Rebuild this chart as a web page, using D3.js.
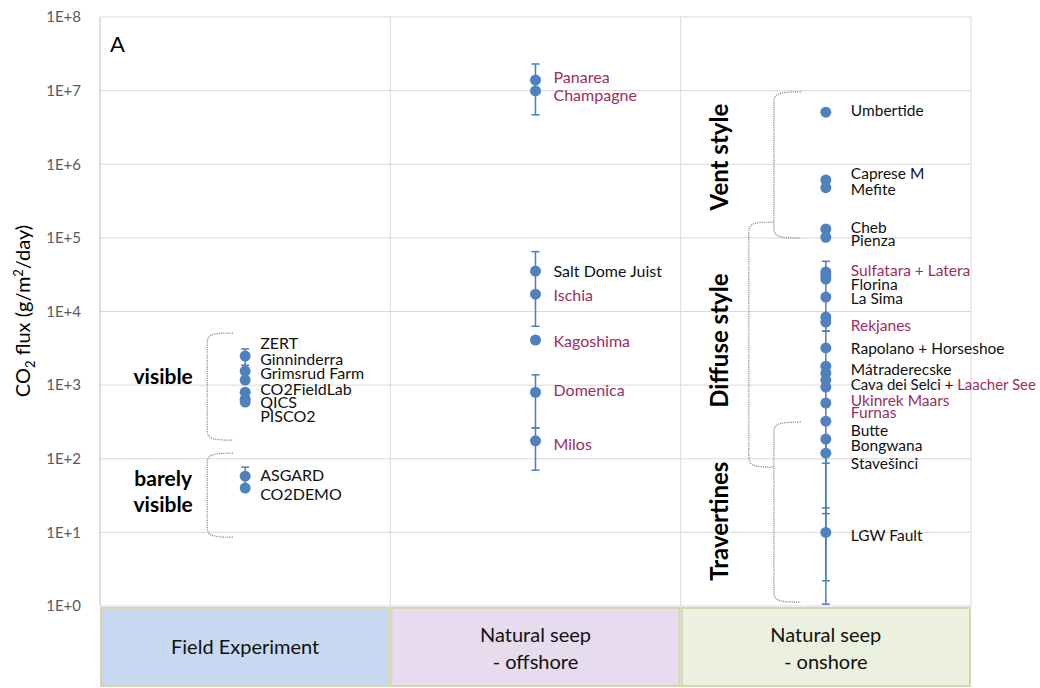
<!DOCTYPE html>
<html>
<head>
<meta charset="utf-8">
<script src="https://cdn.jsdelivr.net/npm/d3@7"></script>
<style>
  html, body { margin: 0; padding: 0; background: #fff; }
  svg { display: block; font-family: Lato, "Open Sans", "Liberation Sans", sans-serif; }
</style>
</head>
<body>
<svg id="chart" width="1040" height="688"></svg>
<script>
// ---------------- DATA ----------------
const categories = ["Field Experiment", "Natural seep - offshore", "Natural seep - onshore"];
const categoryLines = [["Field Experiment"], ["Natural seep", "- offshore"], ["Natural seep", "- onshore"]];
const categoryFills = ["#c6d9f1", "#e6dcee", "#ebf1de"];

const yTickValues = [1, 10, 100, 1000, 1e4, 1e5, 1e6, 1e7, 1e8];
const yTickLabels = ["1E+0", "1E+1", "1E+2", "1E+3", "1E+4", "1E+5", "1E+6", "1E+7", "1E+8"];

// Field experiments (g/m2/day)
const fieldSites = ["ZERT", "Ginninderra", "Grimsrud Farm", "CO2FieldLab", "QICS", "PISCO2", "ASGARD", "CO2DEMO"];
const fieldFlux  = [2480, 1550, 1170, 800, 645, 590, 58, 40];

// Natural seeps offshore
const offshoreSites = ["Panarea", "Champagne", "Salt Dome Juist", "Ischia", "Kagoshima", "Domenica", "Milos"];
const offshoreFlux  = [1.39e7, 9.9e6, 35400, 17200, 4100, 800, 175];

// Natural seeps onshore
const onshoreSites = ["Umbertide", "Caprese M", "Mefite", "Cheb", "Pienza", "Sulfatara", "Latera", "Florina",
  "La Sima", "Rekjanes", "Horseshoe", "Rapolano", "Mátraderecske", "Cava dei Selci", "Laacher See",
  "Ukinrek Maars", "Furnas", "Butte", "Bongwana", "Stavešinci", "LGW Fault"];
const onshoreFlux  = [5.1e6, 6.1e5, 4.8e5, 1.32e5, 1.02e5, 34300, 31200, 27600,
  15700, 8400, 7200, 3200, 1810, 1450, 1170,
  940, 570, 324, 185, 119, 10];

// Error bars: [category index, low, high]
const errorCat  = [0, 0, 1, 1, 1, 1, 2, 2, 2, 2, 2];
const errorLow  = [1860, 40, 4.7e6, 6300, 263, 70, 5400, 87, 2.2, 18, 1.06];
const errorHigh = [3100, 77, 2.3e7, 65000, 1380, 263, 48000, 5400, 119, 185, 21.5];

// Site labels: category index, flux level at which the label sits, text parts [text, highlighted?]
const labelCat = [0,0,0,0,0,0,0,0, 1,1,1,1,1,1,1, 2,2,2,2,2,2,2,2,2,2,2,2,2,2,2,2,2,2];
const labelAt  = [3720, 2250, 1455, 883, 588, 379, 60, 33,
  1.53e7, 8.7e6, 35400, 16700, 3960, 855, 158,
  5.45e6, 7.6e5, 4.6e5, 1.4e5, 9.3e4, 36500, 23500, 15200, 6530, 3180, 1650, 1030, 625, 430, 245, 153, 85, 9.2];
const labelParts = [
  [["ZERT",0]], [["Ginninderra",0]], [["Grimsrud Farm",0]], [["CO2FieldLab",0]], [["QICS",0]], [["PISCO2",0]],
  [["ASGARD",0]], [["CO2DEMO",0]],
  [["Panarea",1]], [["Champagne",1]], [["Salt Dome Juist",0]], [["Ischia",1]], [["Kagoshima",1]], [["Domenica",1]], [["Milos",1]],
  [["Umbertide",0]], [["Caprese M",0]], [["Mefite",0]], [["Cheb",0]], [["Pienza",0]],
  [["Sulfatara + Latera",1]], [["Florina",0]], [["La Sima",0]], [["Rekjanes",1]], [["Rapolano + Horseshoe",0]],
  [["Mátraderecske",0]], [["Cava dei Selci + ",0],["Laacher See",1]], [["Ukinrek Maars",1]], [["Furnas",1]],
  [["Butte",0]], [["Bongwana",0]], [["Stavešinci",0]], [["LGW Fault",0]]
];

// Group brackets: category, text lines, low, high
const groupCat   = [0, 0, 2, 2, 2];
const groupText  = [["visible"], ["barely", "visible"], ["Vent style"], ["Diffuse style"], ["Travertines"]];
const groupLow   = [179, 8.6, 9.9e4, 77, 1.13];
const groupHigh  = [5100, 119, 9.6e6, 1.64e5, 314];

// ---------------- CHART ----------------
const svg = d3.select("#chart");
const W = 1040;
const plotLeft = 100, plotRight = 971, plotTop = 17, plotBottom = 606;

const x = d3.scaleBand().domain(categories).range([plotLeft, plotRight]).padding(0);
const y = d3.scaleLog().domain([1, 1e8]).range([plotBottom, plotTop]);
const cx = i => x(categories[i]) + x.bandwidth() / 2;

// gridlines
const grid = svg.append("g");
grid.selectAll("line.h").data(yTickValues).join("line")
  .attr("x1", plotLeft).attr("x2", plotRight)
  .attr("y1", d => y(d)).attr("y2", d => y(d))
  .attr("stroke", "#d9d9d9").attr("stroke-width", 1);
grid.selectAll("line.v").data(categories).join("line")
  .attr("x1", d => x(d) + x.bandwidth()).attr("x2", d => x(d) + x.bandwidth())
  .attr("y1", plotTop).attr("y2", plotBottom)
  .attr("stroke", "#d9d9d9").attr("stroke-width", 1);
grid.append("line").attr("x1", plotLeft).attr("x2", plotLeft).attr("y1", plotTop).attr("y2", plotBottom)
  .attr("stroke", "#bfbfbf");

// y axis
const yAxis = d3.axisLeft(y).tickValues(yTickValues)
  .tickFormat((d, i) => yTickLabels[i]).tickSize(0).tickPadding(19);
const yg = svg.append("g").attr("transform", `translate(${plotLeft},0)`).call(yAxis);
yg.select(".domain").remove();
yg.selectAll("text").attr("fill", "#595959").attr("font-size", 15)
  .attr("font-family", "Lato, 'Open Sans', sans-serif");

// y title
const yt = svg.append("text").attr("transform", "translate(30,311) rotate(-90)")
  .attr("text-anchor", "middle").attr("font-size", 20).attr("fill", "#000");
yt.append("tspan").text("CO");
yt.append("tspan").text("2").attr("font-size", 13).attr("dy", 5);
yt.append("tspan").text(" flux (g/m").attr("dy", -5);
yt.append("tspan").text("2").attr("font-size", 13).attr("dy", -7);
yt.append("tspan").text("/day)").attr("dy", 7);

// panel letter
svg.append("text").attr("x", 110).attr("y", 52).attr("font-size", 22).text("A");

// category boxes
const boxes = svg.append("g");
boxes.selectAll("rect").data(categories).join("rect")
  .attr("x", d => x(d) + 1).attr("y", 608)
  .attr("width", x.bandwidth() - 2).attr("height", 78)
  .attr("fill", (d, i) => categoryFills[i])
  .attr("stroke", "#d8d3b3").attr("stroke-width", 2);
boxes.selectAll("text").data(categories).join("text")
  .attr("x", (d, i) => cx(i))
  .attr("y", (d, i) => categoryLines[i].length === 1 ? 654 : 642)
  .attr("text-anchor", "middle").attr("font-size", 20).attr("fill", "#111")
  .each(function(d, i) {
    d3.select(this).selectAll("tspan").data(categoryLines[i]).join("tspan")
      .attr("x", cx(i)).attr("dy", (t, j) => j === 0 ? 0 : 27).text(t => t);
  });

// brackets
const bracketGeom = [
  {vx: -38, ax: -12, lx: -82, ly: -3}, {vx: -38, ax: -12, lx: -82, ly: -9},
  {vx: -52, ax: -25, lx: -98, ly: -8}, {vx: -77, ax: -52, lx: -98, ly: -4}, {vx: -52, ax: -25, lx: -98, ly: 9}
];
const br = svg.append("g");
groupCat.forEach((c, i) => {
  const g = bracketGeom[i];
  const xv = cx(c) + g.vx, xa = cx(c) + g.ax;
  const y1 = y(groupHigh[i]), y2 = y(groupLow[i]);
  const r = 12;
  const p = `M${xa},${y1} C${xv + 2},${y1} ${xv},${y1 + 2} ${xv},${y1 + r} L${xv},${y2 - r} C${xv},${y2 - 2} ${xv + 2},${y2} ${xa},${y2}`;
  br.append("path").attr("d", p).attr("fill", "none")
    .attr("stroke", "#8f8f8f").attr("stroke-width", 1.3).attr("stroke-dasharray", "1.2,1");
  const lines = groupText[i];
  const ym = (y1 + y2) / 2 + g.ly;
  if (c === 2) {
    br.append("text").attr("transform", `translate(${cx(c) + g.lx},${ym}) rotate(-90)`)
      .attr("text-anchor", "middle").attr("font-size", 24).attr("font-weight", "bold")
      .text(lines[0]);
  } else {
    const t = br.append("text").attr("text-anchor", "middle").attr("font-size", 21).attr("font-weight", "bold");
    lines.forEach((ln, j) => {
      t.append("tspan").attr("x", cx(c) + g.lx).attr("y", ym + j * 26).text(ln);
    });
  }
});

// error bars
const eb = svg.append("g").attr("stroke", "#4a7ebb").attr("stroke-width", 1.5);
errorCat.forEach((c, i) => {
  const xc = cx(c);
  eb.append("line").attr("x1", xc).attr("x2", xc).attr("y1", y(errorLow[i])).attr("y2", y(errorHigh[i]));
  [errorLow[i], errorHigh[i]].forEach(v => {
    eb.append("line").attr("x1", xc - 4).attr("x2", xc + 4).attr("y1", y(v)).attr("y2", y(v));
  });
});

// points
const pts = svg.append("g").attr("fill", "#4f81bd");
[[fieldFlux, 0], [offshoreFlux, 1], [onshoreFlux, 2]].forEach(([vals, c]) => {
  pts.selectAll(null).data(vals).join("circle")
    .attr("cx", cx(c)).attr("cy", d => y(d)).attr("r", 5.5);
});

// site labels
const labelDx = [15, 18, 25];
const labelSize = [16, 16, 15.5];
const lg = svg.append("g");
labelCat.forEach((c, i) => {
  const x0 = cx(c) + labelDx[c];
  const t = lg.append("text").attr("x", x0).attr("y", y(labelAt[i]) + 5.5)
    .attr("font-size", labelSize[c]);
  labelParts[i].forEach(([s, hl]) => {
    t.append("tspan").text(s).attr("fill", hl ? "#9b2d5f" : "#111");
  });
  // shrink a label that would run past the page edge
  const w = t.node().getComputedTextLength();
  const room = W - 4 - x0;
  if (w > room) t.attr("font-size", labelSize[c] * room / w);
});
</script>
</body>
</html>
